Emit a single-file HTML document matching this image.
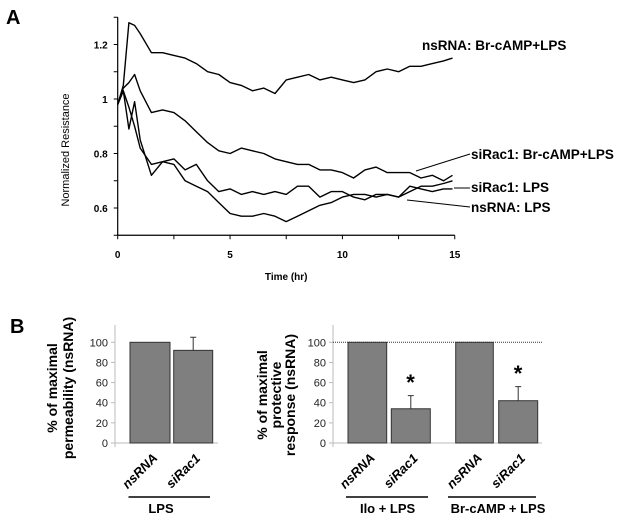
<!DOCTYPE html>
<html><head><meta charset="utf-8"><style>
html,body{margin:0;padding:0;background:#fff}
svg{display:block;font-family:"Liberation Sans",Arial,sans-serif}
</style></head><body>
<svg id="fig" width="629" height="519" viewBox="0 0 629 519">
<text x="6" y="24" font-size="20" font-weight="bold">A</text>
<text x="10" y="333" font-size="20" font-weight="bold">B</text>
<g id="pa"></g>
<g id="pb1"></g>
<g id="pb2"></g>
</svg>
<script>
const times=[0,0.25,0.5,0.75,1,1.5,2,2.5,3,3.5,4,4.5,5,5.5,6,6.5,7,7.5,8,8.5,9,9.5,10,10.5,11,11.5,12,12.5,13,13.5,14,14.5,14.9];
const nsBrLPS=[0.98,1.05,1.28,1.27,1.24,1.17,1.17,1.16,1.15,1.13,1.10,1.09,1.06,1.05,1.03,1.04,1.02,1.07,1.08,1.09,1.07,1.08,1.07,1.06,1.07,1.10,1.11,1.10,1.12,1.12,1.13,1.14,1.15];
const siBrLPS=[0.98,1.04,1.06,1.09,1.03,0.95,0.96,0.95,0.92,0.88,0.84,0.81,0.80,0.82,0.81,0.80,0.78,0.77,0.76,0.76,0.74,0.74,0.73,0.71,0.74,0.75,0.73,0.73,0.73,0.71,0.72,0.70,0.72];
const siLPS=[0.98,1.03,0.89,0.99,0.85,0.72,0.77,0.78,0.74,0.76,0.70,0.66,0.67,0.65,0.66,0.65,0.66,0.65,0.68,0.68,0.64,0.66,0.66,0.64,0.63,0.65,0.65,0.64,0.68,0.67,0.66,0.67,0.67];
const nsLPS=[0.98,1.03,0.97,0.90,0.82,0.76,0.77,0.76,0.70,0.68,0.66,0.62,0.58,0.57,0.57,0.58,0.57,0.55,0.57,0.59,0.61,0.62,0.64,0.65,0.65,0.64,0.65,0.64,0.66,0.68,0.68,0.69,0.70];
const yTicksA=[0.6,0.8,1,1.2];
const xTicksA=[0,5,10,15];
const permCats=["nsRNA","siRac1"];
const permVals=[100,92];
const permErr=[0,13];
const protCats=["nsRNA","siRac1","nsRNA","siRac1"];
const protVals=[100,34,100,42];
const protErr=[0,13,0,14];
const yTicksB=[0,20,40,60,80,100];
const NS="http://www.w3.org/2000/svg";
function mk(p,t,a,txt){const e=document.createElementNS(NS,t);for(const k in a)e.setAttribute(k,a[k]);if(txt!==undefined)e.textContent=txt;p.appendChild(e);return e;}
const pa=document.getElementById('pa');
const xA=t=>117.7+t*22.47, yA=v=>99-(v-1)*272.5;
let e;
e=mk(pa,'line',{x1:xA(0),y1:yA(1.3),x2:xA(0),y2:yA(0.5),stroke:'#000','stroke-width':1.2});


e=mk(pa,'line',{x1:xA(0),y1:yA(0.5),x2:xA(15),y2:yA(0.5),stroke:'#000','stroke-width':1.2});


for(let v=0.5;v<=1.31;v+=0.1){e=mk(pa,'line',{x1:xA(0)-4,y1:yA(v),x2:xA(0),y2:yA(v),stroke:'#000'});

}
for(let t=0;t<=15;t+=2.5){e=mk(pa,'line',{x1:xA(t),y1:yA(0.5),x2:xA(t),y2:yA(0.5)+4,stroke:'#000'});

}
yTicksA.forEach(v=>{e=mk(pa,'text',{x:xA(0)-10,y:yA(v)+4,'font-size':10,'font-weight':'bold','text-anchor':'end'},String(v));

});
xTicksA.forEach(t=>{e=mk(pa,'text',{x:xA(t),y:258,'font-size':10,'font-weight':'bold','text-anchor':'middle'},String(t));

});
e=mk(pa,'text',{x:xA(7.5),y:280,'font-size':10,'font-weight':'bold','text-anchor':'middle'},'Time (hr)');


e=mk(pa,'text',{x:0,y:0,'font-size':11,'text-anchor':'middle',transform:'translate(69,150) rotate(-90)'},'Normalized Resistance');


[[nsBrLPS,'series-nsrna-brcamp-lps'],[siBrLPS,'series-sirac1-brcamp-lps'],[siLPS,'series-sirac1-lps'],[nsLPS,'series-nsrna-lps']].forEach(([s,n])=>{
 const pts=s.map((v,i)=>xA(times[i]).toFixed(1)+','+yA(v).toFixed(1)).join(' ');
 e=mk(pa,'polyline',{points:pts,fill:'none',stroke:'#000','stroke-width':1.4,'stroke-linejoin':'round'});
 
 
});
const labs=[['nsRNA: Br-cAMP+LPS',422,50,null],['siRac1: Br-cAMP+LPS',471,159,[416,171,470,154]],['siRac1: LPS',471,192,[454,188,470,188]],['nsRNA: LPS',471,212,[407,200,470,207]]];
labs.forEach(([t,x,y,l])=>{e=mk(pa,'text',{x:x,y:y,'font-size':13.5,'font-weight':'bold'},t);


if(l){e=mk(pa,'line',{x1:l[0],y1:l[1],x2:l[2],y2:l[3],stroke:'#000','stroke-width':1});

}});
const yB=v=>443-v*1.007;
function barChart(g,ax,axEnd,bars,cats,vals,errs){
 e=mk(g,'line',{x1:ax,y1:325,x2:ax,y2:447,stroke:'#bbb','stroke-width':1});
 
 
 e=mk(g,'line',{x1:ax-4,y1:yB(0),x2:axEnd,y2:yB(0),stroke:'#bbb','stroke-width':1});
 
 
 yTicksB.forEach(v=>{e=mk(g,'text',{x:ax-7,y:yB(v)+4,'font-size':11,'text-anchor':'end',fill:'#222'},String(v));
 
 
 e=mk(g,'line',{x1:ax-4,y1:yB(v),x2:ax,y2:yB(v),stroke:'#bbb'});
 
 });
 vals.forEach((v,i)=>{const [x0,x1]=bars[i];
  if(errs[i]>0){const cx=(x0+x1)/2;e=mk(g,'path',{d:`M${cx},${yB(v)} V${yB(v+errs[i])} M${cx-3},${yB(v+errs[i])} H${cx+3}`,stroke:'#333','stroke-width':1,fill:'none'});
  
  }
  e=mk(g,'rect',{x:x0,y:yB(v),width:x1-x0,height:yB(0)-yB(v),fill:'#7f7f7f',stroke:'#333','stroke-width':1});
  
  
  const cx=(x0+x1)/2-7;
  e=mk(g,'text',{x:0,y:0,'font-size':13,'font-weight':'bold','font-style':'italic','text-anchor':'middle',transform:`translate(${cx},474) rotate(-45)`},cats[i]);
  
  
 });
}
const g1=document.getElementById('pb1');
barChart(g1,115,218,[[130,170],[173.7,212.7]],permCats,permVals,permErr);
e=mk(g1,'text',{x:0,y:0,'font-size':14,'font-weight':'bold','text-anchor':'middle',transform:'translate(57,388) rotate(-90)'},'% of maximal');


e=mk(g1,'text',{x:0,y:0,'font-size':14,'font-weight':'bold','text-anchor':'middle',transform:'translate(73,388) rotate(-90)'},'permeability (nsRNA)');


e=mk(g1,'line',{x1:128.5,y1:497,x2:210,y2:497,stroke:'#000','stroke-width':1.5});


e=mk(g1,'text',{x:161,y:513,'font-size':13,'font-weight':'bold','text-anchor':'middle'},'LPS');


const g2=document.getElementById('pb2');
barChart(g2,333,542,[[348,386.7],[391.3,430.3],[455.7,493.3],[498.7,537.7]],protCats,protVals,protErr);
e=mk(g2,'line',{x1:333,y1:yB(100),x2:542,y2:yB(100),stroke:'#333','stroke-width':1,'stroke-dasharray':'1,1'});


[['% of maximal',267],['protective',281],['response (nsRNA)',295]].forEach(([t,x])=>{e=mk(g2,'text',{x:0,y:0,'font-size':14,'font-weight':'bold','text-anchor':'middle',transform:`translate(${x},395) rotate(-90)`},t);

});
[[410.5,390],[518,381]].forEach(([x,y])=>{e=mk(g2,'text',{x:x,y:y,'font-size':22,'font-weight':'bold','text-anchor':'middle'},'*');

});
[[346,428,387.6,'Ilo + LPS'],[448,536,498,'Br-cAMP + LPS']].forEach(([a,b,c,t])=>{
e=mk(g2,'line',{x1:a,y1:497,x2:b,y2:497,stroke:'#000','stroke-width':1.5});


e=mk(g2,'text',{x:c,y:513,'font-size':13,'font-weight':'bold','text-anchor':'middle'},t);

});
</script>
</body></html>
